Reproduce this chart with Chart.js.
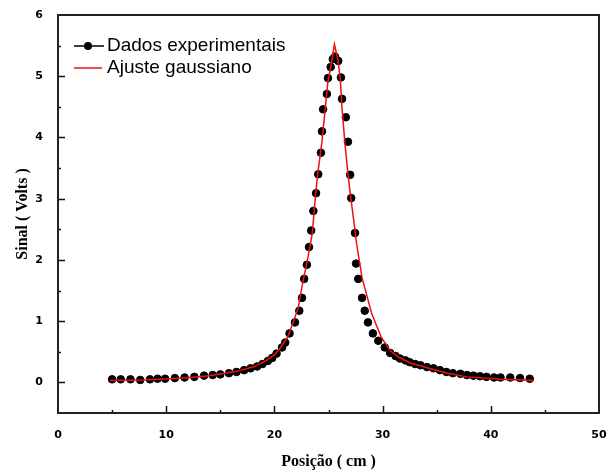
<!DOCTYPE html>
<html>
<head>
<meta charset="utf-8">
<script src="https://cdn.jsdelivr.net/npm/chart.js@4/dist/chart.umd.min.js"></script>
<style>
  html, body { margin: 0; padding: 0; background: #fff; }
</style>
</head>
<body>
<canvas id="chart" width="607" height="471"></canvas>
<script>
// Dados experimentais (posição em cm, sinal em V)
const posExp = [5.0, 5.8, 6.7, 7.6, 8.5, 9.2, 9.9, 10.8, 11.7, 12.6, 13.5, 14.3, 15.0, 15.8, 16.5,
  17.2, 17.8, 18.4, 18.9, 19.4, 19.8, 20.2, 20.7, 21.0, 21.4, 21.9, 22.3, 22.55, 22.75, 23.0,
  23.2, 23.4, 23.6, 23.85, 24.05, 24.3, 24.4, 24.5, 24.85, 24.95, 25.2, 25.4, 25.6, 25.9, 26.15,
  26.25, 26.6, 26.8, 27.0, 27.1, 27.45, 27.55, 27.75, 28.1, 28.35, 28.65, 29.1, 29.6, 30.2, 30.7,
  31.2, 31.6, 32.1, 32.5, 33.0, 33.5, 34.1, 34.7, 35.3, 35.9, 36.5, 37.2, 37.8, 38.4, 39.0,
  39.6, 40.3, 40.9, 41.8, 42.7, 43.6];
const sinalExp = [0.05, 0.05, 0.05, 0.04, 0.05, 0.06, 0.06, 0.07, 0.08, 0.09, 0.11, 0.12, 0.13, 0.15, 0.17,
  0.20, 0.23, 0.26, 0.30, 0.35, 0.40, 0.47, 0.57, 0.65, 0.80, 0.98, 1.17, 1.38, 1.69, 1.92,
  2.21, 2.48, 2.80, 3.09, 3.40, 3.75, 4.10, 4.46, 4.71, 4.97, 5.15, 5.28, 5.32, 5.25, 4.98,
  4.63, 4.33, 3.93, 3.39, 3.01, 2.44, 1.94, 1.69, 1.38, 1.17, 0.98, 0.80, 0.68, 0.57, 0.48,
  0.43, 0.39, 0.36, 0.33, 0.30, 0.28, 0.25, 0.23, 0.20, 0.17, 0.15, 0.14, 0.12, 0.11, 0.10,
  0.09, 0.08, 0.08, 0.08, 0.07, 0.06];

// Ajuste gaussiano (curva vermelha)
const posFit = [4.8, 8.0, 11.6, 14.0, 16.5, 18.0, 19.0, 20.0, 20.5, 21.2, 21.7, 22.2, 22.6, 23.1,
  23.5, 23.75, 24.0, 24.4, 24.7, 24.95, 25.3, 25.55, 25.9, 26.1, 26.25, 26.5, 26.8, 27.0, 27.3,
  27.6, 28.1, 28.6, 29.0, 29.5, 29.9, 30.7, 31.5, 32.5, 34.7, 36.0, 37.8, 40.9, 44.0];
const sinalFit = [0.03, 0.04, 0.07, 0.11, 0.18, 0.25, 0.33, 0.45, 0.55, 0.73, 0.96, 1.22, 1.61, 2.04,
  2.43, 2.96, 3.40, 3.94, 4.48, 4.92, 5.24, 5.52, 5.24, 4.92, 4.48, 3.94, 3.40, 3.10, 2.69,
  2.26, 1.71, 1.38, 1.12, 0.90, 0.73, 0.52, 0.41, 0.32, 0.21, 0.15, 0.09, 0.05, 0.03];

const serieNomes = ['Dados experimentais', 'Ajuste gaussiano'];

// Frame and inward tick marks
const frameTicks = {
  id: 'frameTicks',
  afterDatasetsDraw(chart) {
    const ctx = chart.ctx;
    const a = chart.chartArea;
    const xs = chart.scales.x;
    const ys = chart.scales.y;
    ctx.save();
    ctx.strokeStyle = '#111';
    ctx.lineWidth = 1.5;
    ctx.beginPath();
    xs.ticks.forEach(t => {
      if (t.value <= xs.min || t.value >= xs.max) return;
      const px = Math.round(xs.getPixelForValue(t.value)) + 0.5;
      const len = t.value % 10 === 0 ? 7 : 3;
      ctx.moveTo(px, a.bottom);
      ctx.lineTo(px, a.bottom - len);
    });
    ys.ticks.forEach(t => {
      if (t.value <= ys.min || t.value >= ys.max) return;
      const py = Math.round(ys.getPixelForValue(t.value)) + 0.5;
      const len = Number.isInteger(t.value) ? 7 : 3;
      ctx.moveTo(a.left, py);
      ctx.lineTo(a.left + len, py);
    });
    ctx.stroke();
    ctx.lineWidth = 2;
    ctx.strokeStyle = '#222';
    ctx.strokeRect(a.left, a.top, a.right - a.left, a.bottom - a.top);
    ctx.restore();
  }
};

// Legend inside the plot, top left
const innerLegend = {
  id: 'innerLegend',
  afterDraw(chart) {
    const ctx = chart.ctx;
    const x0 = chart.chartArea.left + 16;
    const y0 = chart.chartArea.top + 31;
    ctx.save();
    ctx.font = '19px "Liberation Sans", Arial, sans-serif';
    ctx.textBaseline = 'middle';
    ctx.fillStyle = '#000';
    // experimental
    ctx.strokeStyle = '#000';
    ctx.lineWidth = 1.5;
    ctx.beginPath();
    ctx.moveTo(x0, y0);
    ctx.lineTo(x0 + 30, y0);
    ctx.stroke();
    ctx.beginPath();
    ctx.arc(x0 + 14, y0, 4, 0, Math.PI * 2);
    ctx.fill();
    ctx.fillText(serieNomes[0], x0 + 33, y0);
    // fit
    ctx.strokeStyle = '#ee1111';
    ctx.beginPath();
    ctx.moveTo(x0, y0 + 22);
    ctx.lineTo(x0 + 28, y0 + 22);
    ctx.stroke();
    ctx.fillText(serieNomes[1], x0 + 33, y0 + 22);
    ctx.restore();
  }
};

const tickFont = { family: '"DejaVu Sans", sans-serif', size: 11, weight: 'bold' };
const titleFont = { family: '"Liberation Serif", "Times New Roman", serif', size: 16, weight: 'bold' };

new Chart(document.getElementById('chart'), {
  type: 'scatter',
  data: {
    datasets: [{
      label: serieNomes[0],
      data: posExp.map((x, i) => ({ x: x, y: sinalExp[i] })),
      backgroundColor: '#000',
      borderColor: '#000',
      pointRadius: 3.8,
      pointHoverRadius: 3.8,
      showLine: false,
      order: 2
    }, {
      label: serieNomes[1],
      data: posFit.map((x, i) => ({ x: x, y: sinalFit[i] })),
      borderColor: '#ee1111',
      borderWidth: 1.5,
      pointRadius: 0,
      showLine: true,
      tension: 0,
      order: 1
    }]
  },
  options: {
    responsive: false,
    animation: false,
    layout: { padding: { top: 15, right: 8, left: 0, bottom: 0 } },
    plugins: {
      legend: { display: false },
      tooltip: { enabled: false }
    },
    scales: {
      x: {
        type: 'linear',
        min: 0,
        max: 50,
        grid: { display: false },
        border: { display: false },
        ticks: {
          stepSize: 5,
          autoSkip: false,
          maxRotation: 0,
          color: '#000',
          font: tickFont,
          padding: 8,
          callback: v => (v % 10 === 0 ? v : '')
        },
        title: {
          display: true,
          text: 'Posição ( cm )',
          color: '#000',
          font: titleFont,
          padding: { top: 10, bottom: 0 }
        },
        afterFit: s => {
          s.height = 58;
          s.paddingLeft = 0;
          s.paddingRight = 0;
        }
      },
      y: {
        type: 'linear',
        min: -0.5,
        max: 6,
        grid: { display: false },
        border: { display: false },
        ticks: {
          stepSize: 0.5,
          autoSkip: false,
          color: '#000',
          font: tickFont,
          padding: 7,
          callback: v => (Number.isInteger(v) ? v : '')
        },
        title: {
          display: true,
          text: 'Sinal ( Volts )',
          color: '#000',
          font: titleFont,
          padding: { top: 13, bottom: 8 }
        },
        afterFit: s => {
          s.width = 58;
          s.paddingTop = 0;
          s.paddingBottom = 0;
        }
      }
    }
  },
  plugins: [frameTicks, innerLegend]
});
</script>
</body>
</html>
